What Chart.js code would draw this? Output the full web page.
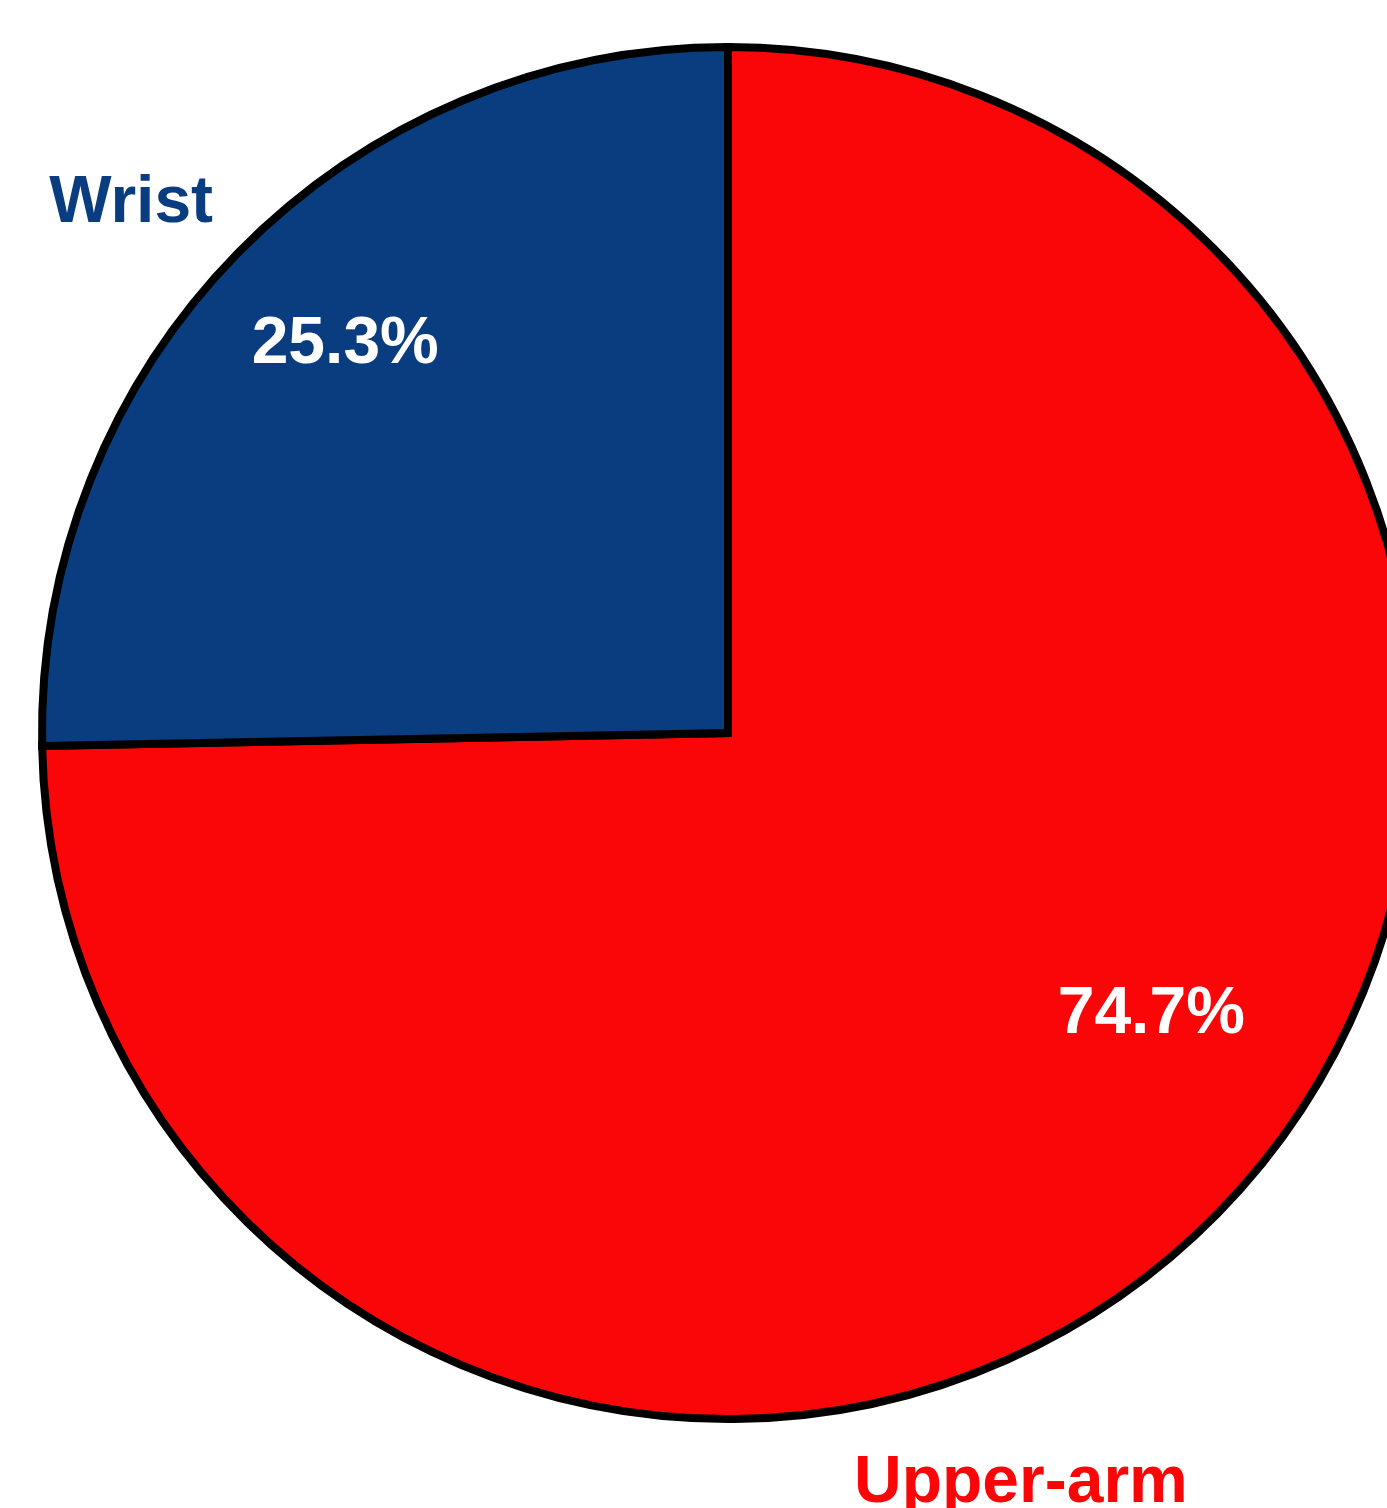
<!DOCTYPE html>
<html>
<head>
<meta charset="utf-8">
<style>
    html, body { margin: 0; padding: 0; background: #ffffff; overflow: hidden; }
    #chartContainer { width: 1387px; height: 1508px; overflow: hidden; }
</style>
<script src="https://cdn.jsdelivr.net/npm/chart.js@4/dist/chart.umd.min.js"></script>
</head>
<body>
<div id="chartContainer">
    <canvas id="myChart" width="1456" height="1508"></canvas>
</div>
<script>
// data
var categories = ["Upper-arm", "Wrist"];
var shares = [74.7, 25.3];
var sliceColors = ["#FA0508", "#0A3D7F"];

// label placement (centre x, baseline y), as fractions of the pie radius from its centre
var valueLabelPos = [[0.617, 0.437], [-0.558, -0.539]];
var nameLabelPos = [[0.427, 1.121], [-0.870, -0.745]];

document.addEventListener("DOMContentLoaded", function () {
    var labelPlugin = {
        id: "pieLabels",
        afterDraw: function (chart) {
            var ctx = chart.ctx;
            var arcs = chart.getDatasetMeta(0).data;
            ctx.save();
            ctx.font = "bold 66px 'Liberation Sans', Arial, sans-serif";
            ctx.textAlign = "center";
            ctx.textBaseline = "alphabetic";
            arcs.forEach(function (arc, i) {
                var r = arc.outerRadius;
                ctx.fillStyle = "#ffffff";
                ctx.fillText(shares[i].toFixed(1) + "%",
                    arc.x + valueLabelPos[i][0] * r, arc.y + valueLabelPos[i][1] * r);
                ctx.fillStyle = sliceColors[i];
                ctx.fillText(categories[i],
                    arc.x + nameLabelPos[i][0] * r, arc.y + nameLabelPos[i][1] * r);
            });
            ctx.restore();
        },
    };

    var ctx = document.getElementById("myChart").getContext("2d");
    // eslint-disable-next-line no-undef,no-new
    new Chart(ctx, {
        type: "pie",
        data: {
            labels: categories,
            datasets: [
                {
                    data: shares,
                    backgroundColor: sliceColors,
                    borderColor: "#000000",
                    borderWidth: 8,
                    borderJoinStyle: "miter",
                },
            ],
        },
        options: {
            responsive: false,
            animation: false,
            radius: 686,
            layout: { padding: { bottom: 42 } },
            plugins: {
                legend: { display: false },
                tooltip: { enabled: false },
            },
        },
        plugins: [labelPlugin],
    });
});
</script>
</body>
</html>
